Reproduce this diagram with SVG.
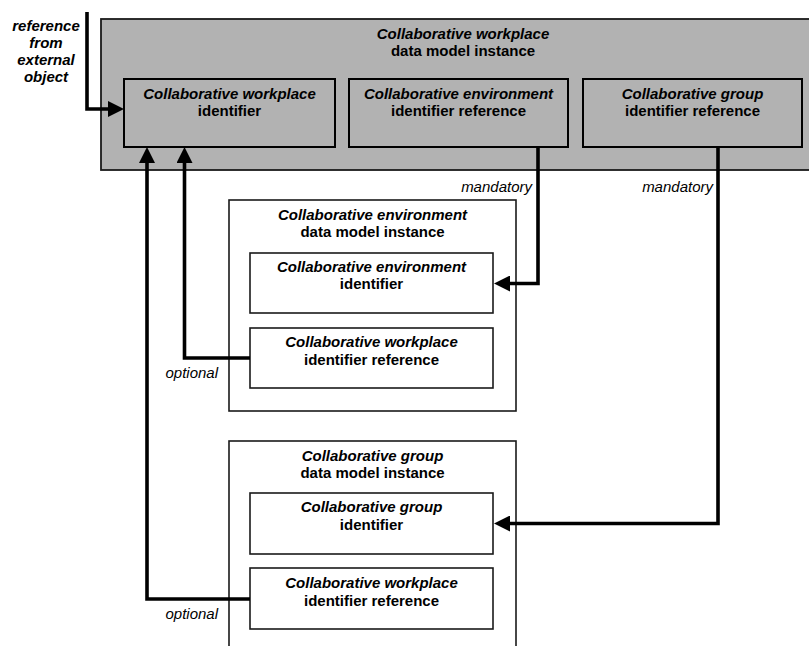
<svg xmlns="http://www.w3.org/2000/svg" width="809" height="646" viewBox="0 0 809 646">
<style>
text{font-family:"Liberation Sans",Arial,sans-serif;font-size:15px;fill:#000;text-anchor:middle}
.bi{font-weight:bold;font-style:italic}
.b{font-weight:bold}
.lbl{font-style:italic;text-anchor:end}
.gray{fill:#b2b2b2;stroke:#1a1a1a;stroke-width:1.8}
.box{fill:none;stroke:#000;stroke-width:2}
.wbox{fill:#fff;stroke:#1a1a1a;stroke-width:1.6}
.conn{fill:none;stroke:#000;stroke-width:3.6;stroke-linejoin:miter;stroke-linecap:butt}
</style>
<defs>
<marker id="arr" viewBox="0 0 16 16" refX="0" refY="8" markerWidth="16" markerHeight="16" markerUnits="userSpaceOnUse" orient="auto">
<path d="M0,0 L16,8 L0,16 Z" fill="#000"/>
</marker>
</defs>
<rect width="809" height="646" fill="#fff"/>

<g id="workplace-instance">
<rect class="gray" x="101" y="19" width="725" height="151"/>
<text class="bi" x="463" y="38.5">Collaborative workplace</text>
<text class="b" x="463" y="55.5">data model instance</text>
</g>
<g id="workplace-identifier">
<rect class="box" x="124" y="79" width="211" height="68"/>
<text class="bi" x="229.5" y="99">Collaborative workplace</text>
<text class="b" x="229.5" y="116">identifier</text>
</g>
<g id="environment-identifier-reference">
<rect class="box" x="349" y="79" width="219" height="68"/>
<text class="bi" x="458.5" y="99">Collaborative environment</text>
<text class="b" x="458.5" y="116">identifier reference</text>
</g>
<g id="group-identifier-reference">
<rect class="box" x="583" y="79" width="219" height="68"/>
<text class="bi" x="692.5" y="99">Collaborative group</text>
<text class="b" x="692.5" y="116">identifier reference</text>
</g>

<g id="environment-instance">
<rect class="wbox" x="229" y="200" width="287" height="211"/>
<text class="bi" x="372.5" y="220">Collaborative environment</text>
<text class="b" x="372.5" y="237">data model instance</text>
</g>
<g id="environment-identifier">
<rect class="wbox" x="250" y="253" width="243" height="60"/>
<text class="bi" x="371.5" y="272">Collaborative environment</text>
<text class="b" x="371.5" y="289">identifier</text>
</g>
<g id="environment-workplace-reference">
<rect class="wbox" x="250" y="328" width="243" height="60"/>
<text class="bi" x="371.5" y="347">Collaborative workplace</text>
<text class="b" x="371.5" y="364.5">identifier reference</text>
</g>

<g id="group-instance">
<rect class="wbox" x="229" y="441" width="287" height="230"/>
<text class="bi" x="372.5" y="461">Collaborative group</text>
<text class="b" x="372.5" y="478">data model instance</text>
</g>
<g id="group-identifier">
<rect class="wbox" x="250" y="493" width="243" height="61"/>
<text class="bi" x="371.5" y="512">Collaborative group</text>
<text class="b" x="371.5" y="530">identifier</text>
</g>
<g id="group-workplace-reference">
<rect class="wbox" x="250" y="568" width="243" height="61"/>
<text class="bi" x="371.5" y="588">Collaborative workplace</text>
<text class="b" x="371.5" y="606">identifier reference</text>
</g>

<g id="connectors">
<path class="conn" d="M87,12 V109 H108" marker-end="url(#arr)"/>
<path class="conn" d="M250,358 H184.5 V163" marker-end="url(#arr)"/>
<path class="conn" d="M250,599 H147 V163" marker-end="url(#arr)"/>
<path class="conn" d="M538,147 V283.5 H510" marker-end="url(#arr)"/>
<path class="conn" d="M718,147 V523.5 H510" marker-end="url(#arr)"/>
<text class="bi" x="46" y="31">reference</text>
<text class="bi" x="46" y="48">from</text>
<text class="bi" x="46" y="65">external</text>
<text class="bi" x="46" y="82">object</text>
<text class="lbl" x="532" y="191.5">mandatory</text>
<text class="lbl" x="713" y="191.5">mandatory</text>
<text class="lbl" x="218" y="377.5">optional</text>
<text class="lbl" x="218" y="619">optional</text>
</g>
</svg>
